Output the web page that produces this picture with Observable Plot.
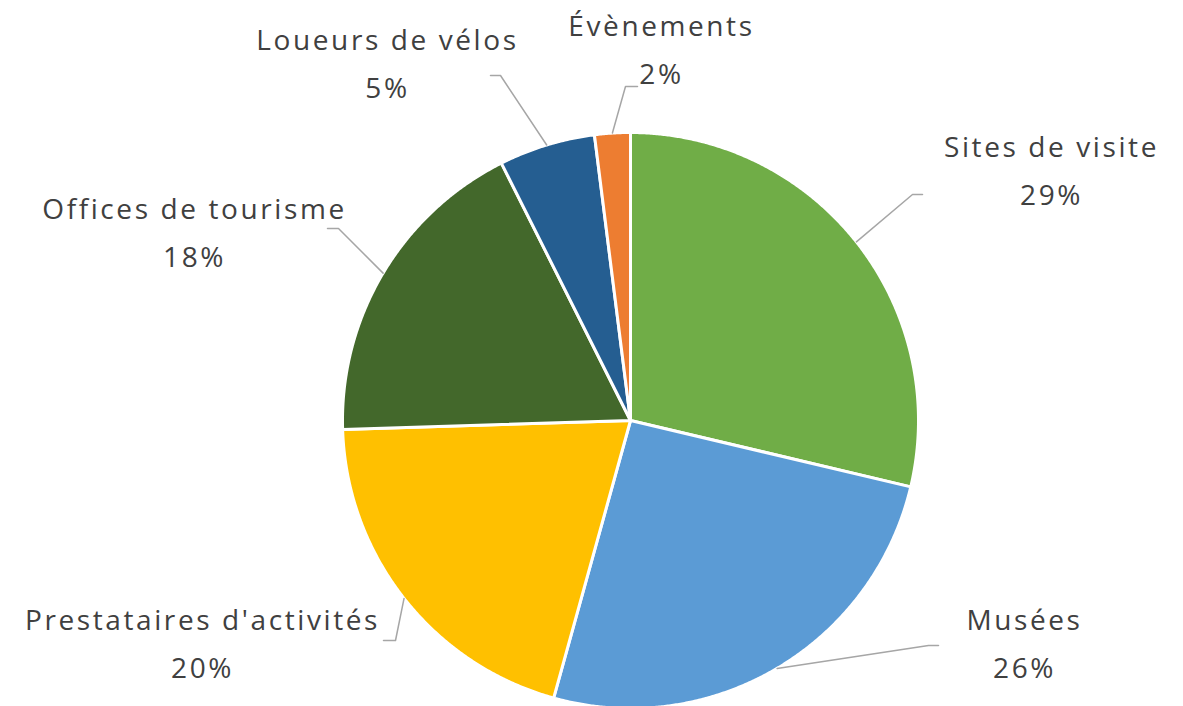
<!DOCTYPE html>
<html>
<head>
<meta charset="utf-8">
<script src="https://cdn.jsdelivr.net/npm/d3@7"></script>
<script src="https://cdn.jsdelivr.net/npm/@observablehq/plot@0.6"></script>
<style>
  html, body { margin: 0; padding: 0; background: #ffffff; }
  #chart svg { display: block; }
</style>
</head>
<body>
<div id="chart"></div>
<script>
// ---- Data ----
const categories = ["Sites de visite", "Musées", "Prestataires d'activités", "Offices de tourisme", "Loueurs de vélos", "Évènements"];
const values = [28.7, 25.6, 20.2, 18.1, 5.4, 2.0];
const percentLabels = ["29%", "26%", "20%", "18%", "5%", "2%"];
const colors = ["#70AD47", "#5B9BD5", "#FFC000", "#43682B", "#255E91", "#ED7D31"];

// ---- Layout (pixels) ----
const W = 1183, H = 706;
const CX = 630, CY = 420, R = 288;
const labelCenters = [[1051, 148], [1024, 621], [202, 621], [194, 210], [387, 41], [661, 27]];
const lineGap = 48;
const leaderElbows = [[[912, 194], [922, 194]], [[928, 645], [938, 645]], [[395, 640], [383, 640]], [[338, 228], [327, 228]], [[500, 75], [490, 75]], [[625, 86], [637, 86]]];

// pixel -> data units (radius = 1)
const ux = px => (px - CX) / R;
const uy = py => (CY - py) / R;

const pie = d3.pie().sort(null).value(d => d)(values);

// slice polygons
const slicePts = [];
pie.forEach((s, i) => {
  slicePts.push({cat: categories[i], x: 0, y: 0});
  const n = Math.max(4, Math.ceil((s.endAngle - s.startAngle) / 0.005));
  for (let k = 0; k <= n; k++) {
    const a = s.startAngle + (s.endAngle - s.startAngle) * k / n;
    slicePts.push({cat: categories[i], x: Math.sin(a), y: Math.cos(a)});
  }
});

// leader lines
const leaderPts = [];
pie.forEach((s, i) => {
  const a = (s.startAngle + s.endAngle) / 2;
  leaderPts.push({cat: categories[i], x: Math.sin(a), y: Math.cos(a)});
  leaderElbows[i].forEach(p => leaderPts.push({cat: categories[i], x: ux(p[0]), y: uy(p[1])}));
});

const labels = categories.map((c, i) => ({
  name: c, pct: percentLabels[i],
  x: ux(labelCenters[i][0]), y1: uy(labelCenters[i][1]), y2: uy(labelCenters[i][1] + lineGap)
}));

const chart = Plot.plot({
  width: W, height: H, margin: 0,
  x: {domain: [ux(0), ux(W)], axis: null},
  y: {domain: [uy(H), uy(0)], axis: null},
  color: {domain: categories, range: colors},
  style: {fontFamily: "'Open Sans', sans-serif", background: "#ffffff"},
  marks: [
    Plot.line(slicePts, {x: "x", y: "y", z: "cat", fill: "cat", stroke: "#ffffff", strokeWidth: 3, strokeLinejoin: "round", curve: "linear-closed"}),
    Plot.line(leaderPts, {x: "x", y: "y", z: "cat", stroke: "#A6A6A6", strokeWidth: 1.5}),
    Plot.text(labels, {x: "x", y: "y1", text: "name", fontSize: 28, fill: "#404040"}),
    Plot.text(labels, {x: "x", y: "y2", text: "pct", fontSize: 28, fill: "#404040"})
  ]
});
chart.querySelectorAll("text").forEach(t => t.setAttribute("letter-spacing", "2.6px"));
document.getElementById("chart").appendChild(chart);
</script>
</body>
</html>
